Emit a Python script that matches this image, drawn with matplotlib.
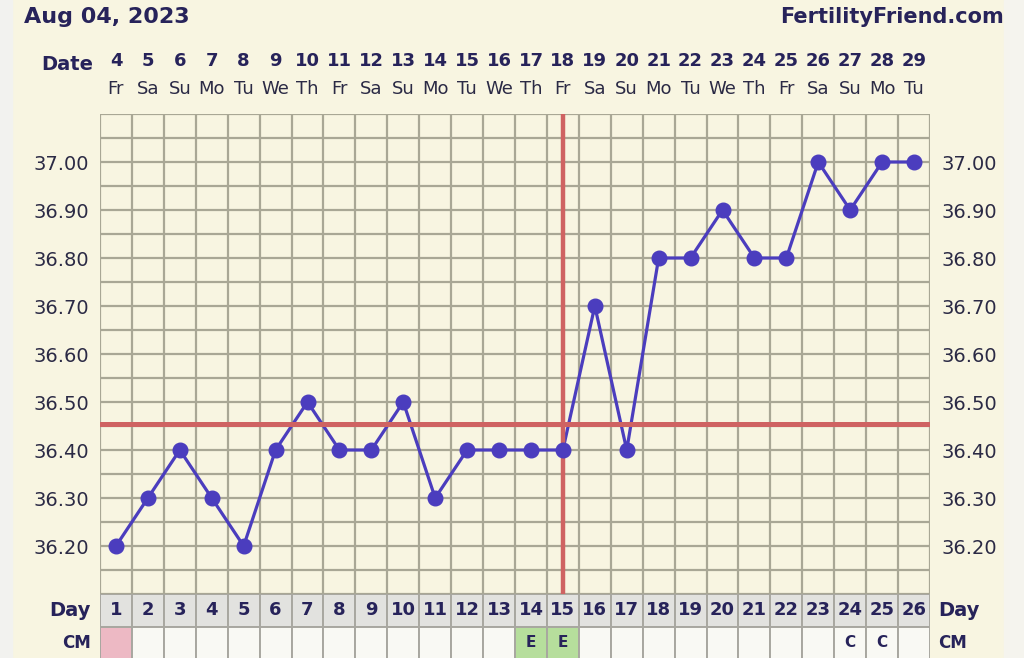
import matplotlib.pyplot as plt
from matplotlib.patches import Rectangle
import numpy as np

# chart data
days = list(range(1, 27))
dates = list(range(4, 30))
weekdays = ['Fr', 'Sa', 'Su', 'Mo', 'Tu', 'We', 'Th'] * 4
weekdays = weekdays[:26]
temps = [36.20, 36.30, 36.40, 36.30, 36.20, 36.40, 36.50, 36.40, 36.40, 36.50,
         36.30, 36.40, 36.40, 36.40, 36.40, 36.70, 36.40, 36.80, 36.80, 36.90,
         36.80, 36.80, 37.00, 36.90, 37.00, 37.00]
coverline = 36.455
ovulation_day = 15
cm_text = [''] * 13 + ['E', 'E'] + [''] * 8 + ['C', 'C', '']
cm_kind = ['period'] + [''] * 12 + ['egg', 'egg'] + [''] * 11
yticks = [36.20, 36.30, 36.40, 36.50, 36.60, 36.70, 36.80, 36.90, 37.00]

bg = '#F8F5E1'
navy = '#27235A'
gridc = '#A9A795'
blue = '#4B3DBE'
red = '#CF6362'

W, H = 1024, 658
fig = plt.figure(figsize=(W / 100, H / 100), dpi=100, facecolor=bg)
fig.patches.append(Rectangle((0, 0), 12 / W, 1, transform=fig.transFigure,
                             color='#F2F2EF', zorder=0))
fig.patches.append(Rectangle((1004 / W, 0), 20 / W, 1, transform=fig.transFigure,
                             color='#F5F4EE', zorder=0))

ax = fig.add_axes([100 / W, (H - 594) / H, 830 / W, 480 / H])
ax.set_facecolor(bg)
ax.set_xlim(0.5, 26.5)
ax.set_ylim(36.10, 37.10)
ax.yaxis.remove_overlapping_locs = False
ax.set_xticks(np.arange(0.5, 27, 1), minor=True)
ax.set_yticks(np.arange(36.10, 37.101, 0.05), minor=True)
ax.set_xticks([])
ax.set_yticks(yticks)
ax.set_yticklabels(['%.2f' % v for v in yticks])
ax.grid(which='minor', color=gridc, linewidth=1.6)
ax.tick_params(which='both', length=0)
ax.tick_params(axis='y', labelleft=True, labelright=True, labelsize=14,
               labelcolor='#2B2A45', pad=8)
for s in ax.spines.values():
    s.set_visible(False)

ax.plot(days, temps, color=blue, linewidth=2.3, zorder=3)
ax.axhline(coverline, color=red, linewidth=3.6, zorder=4)
ax.axvline(ovulation_day, color=red, linewidth=3.2, zorder=4)
ax.plot(days, temps, 'o', color=blue, markersize=10.5, zorder=5)

# header texts
fig.text(24 / W, 1 - 17 / H, 'Aug 04, 2023', fontsize=16, fontweight='bold',
         color=navy, va='center', ha='left')
fig.text(1004 / W, 1 - 17 / H, 'FertilityFriend.com', fontsize=15,
         fontweight='bold', color=navy, va='center', ha='right')
tr = ax.get_xaxis_transform()
ax.text(0.28, (594 - 64) / 480, 'Date', transform=tr, ha='right', va='center',
        fontsize=14, fontweight='bold', color=navy)
for d, dt, wd in zip(days, dates, weekdays):
    ax.text(d, (594 - 61) / 480, str(dt), transform=tr, ha='center', va='center',
            fontsize=13, fontweight='bold', color=navy)
    ax.text(d, (594 - 89) / 480, wd, transform=tr, ha='center', va='center',
            fontsize=13, color='#2B2A45')

# day / cervical mucus table
tab = fig.add_axes([100 / W, -1 / H, 830 / W, 65 / H])
tab.set_xlim(0.5, 26.5)
tab.set_ylim(0, 2)
tab.axis('off')
tab.bar(days, 1, bottom=1, width=1, color='#E2E2DF', edgecolor='#A8A7A0',
        linewidth=1.4)
cm_colors = {'period': '#EDB9C4', 'egg': '#B6DE9C', '': '#F9F9F4'}
tab.bar(days, 1, bottom=0, width=1, color=[cm_colors[k] for k in cm_kind],
        edgecolor='#A8A7A0', linewidth=1.4)
for d, c in zip(days, cm_text):
    tab.text(d, 1.5, str(d), ha='center', va='center', fontsize=13,
             fontweight='bold', color=navy)
    if c:
        tab.text(d, 0.5, c, ha='center', va='center', fontsize=11,
                 fontweight='bold', color=navy)
tab.text(0.2, 1.5, 'Day', ha='right', va='center', fontsize=14,
         fontweight='bold', color=navy)
tab.text(0.2, 0.5, 'CM', ha='right', va='center', fontsize=12,
         fontweight='bold', color=navy)
tab.text(26.75, 1.5, 'Day', ha='left', va='center', fontsize=14,
         fontweight='bold', color=navy)
tab.text(26.75, 0.5, 'CM', ha='left', va='center', fontsize=12,
         fontweight='bold', color=navy)

fig.savefig('out.png', dpi=100, facecolor=bg)
